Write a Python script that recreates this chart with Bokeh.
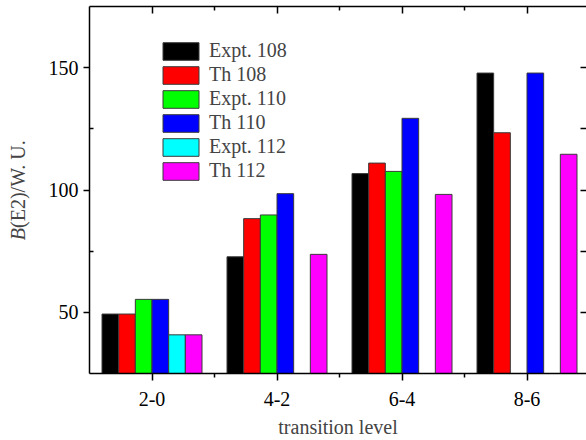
import math
from bokeh.plotting import figure
from bokeh.models import (Range1d, LinearAxis, FixedTicker, Legend, LegendItem, Label,
                          ColumnDataSource)
from bokeh.embed import file_html
from bokeh.resources import INLINE

# ---- data ----
categories = ["2-0", "4-2", "6-4", "8-6"]
series_names = ["Expt. 108", "Th 108", "Expt. 110", "Th 110", "Expt. 112", "Th 112"]
expt_108 = [49.3, 72.7, 106.7, 147.8]
th_108 = [49.3, 88.3, 111.0, 123.4]
expt_110 = [55.3, 89.8, 107.6, None]
th_110 = [55.3, 98.5, 129.3, 147.8]
expt_112 = [40.8, None, None, None]
th_112 = [40.8, 73.7, 98.2, 114.6]
series_values = [expt_108, th_108, expt_110, th_110, expt_112, th_112]
colors = ["#000000", "#FF0000", "#00FF00", "#0000FF", "#00FFFF", "#FF00FF"]
y_ticks = [50, 100, 150]
y_minor = [75, 125]

FONT = "Liberation Serif"
FS = "20px"
n = len(series_names)
bar_w = 0.8 / n

p = figure(width=586, height=440, output_backend="svg", toolbar_location=None,
           x_range=Range1d(-0.5, 3.476), y_range=Range1d(25, 175),
           x_axis_location=None, y_axis_location=None,
           min_border_left=89, min_border_right=0, min_border_top=6,
           min_border_bottom=67)
p.outline_line_color = None
p.grid.visible = False
p.background_fill_color = "white"

xt = FixedTicker(ticks=list(range(len(categories))),
                 minor_ticks=[i + 0.5 for i in range(len(categories) - 1)])
yt = FixedTicker(ticks=y_ticks, minor_ticks=y_minor)

def style(ax):
    ax.axis_line_width = 1.5
    ax.axis_line_color = "black"
    ax.major_tick_line_width = 1.5
    ax.minor_tick_line_width = 1.5
    ax.major_label_text_font = FONT
    ax.major_label_text_font_size = FS
    ax.major_label_text_color = "black"
    ax.axis_label_text_font = FONT
    ax.axis_label_text_font_size = FS
    ax.axis_label_text_font_style = "normal"

# bottom axis
xb = LinearAxis(ticker=xt, axis_label="transition level")
style(xb)
xb.major_label_overrides = {i: c for i, c in enumerate(categories)}
xb.major_tick_out = 7; xb.major_tick_in = 0
xb.minor_tick_out = 4; xb.minor_tick_in = 0
xb.major_label_standoff = 11
xb.axis_label_standoff = 7
p.add_layout(xb, "below")

# top axis (ticks only)
xa = LinearAxis(ticker=xt)
style(xa)
xa.major_label_text_font_size = "0px"
xa.major_label_overrides = {i: "" for i in range(len(categories))}
xa.major_tick_out = 0; xa.major_tick_in = 7
xa.minor_tick_out = 0; xa.minor_tick_in = 4
xa.major_label_standoff = 0
p.add_layout(xa, "above")

# left axis
yl = LinearAxis(ticker=yt)
style(yl)
yl.major_tick_out = 6; yl.major_tick_in = 0
yl.minor_tick_out = 0; yl.minor_tick_in = 4
yl.major_label_standoff = 5
p.add_layout(yl, "left")

# right axis (ticks only, spine cropped in the original)
yr = LinearAxis(ticker=yt)
style(yr)
yr.axis_line_color = None
yr.major_label_text_font_size = "0px"
yr.major_label_overrides = {v: "" for v in y_ticks}
yr.major_tick_out = 0; yr.major_tick_in = 6
yr.minor_tick_out = 0; yr.minor_tick_in = 6
yr.major_label_standoff = 0
p.add_layout(yr, "right")

# bars
items = []
for k, (name, vals, col) in enumerate(zip(series_names, series_values, colors)):
    off = (k - (n - 1) / 2) * bar_w
    xs = [i + off for i, v in enumerate(vals) if v is not None]
    ts = [v for v in vals if v is not None]
    src = ColumnDataSource(dict(x=xs, top=ts))
    r = p.vbar(x="x", top="top", bottom=25, width=bar_w, source=src,
               fill_color=col, line_color="#3a3a3a", line_width=1)
    items.append(LegendItem(label=name, renderers=[r]))

legend = Legend(items=items, location=(69, 191), padding=0, margin=0, spacing=1,
                glyph_width=45, glyph_height=22, label_standoff=6,
                label_text_font=FONT, label_text_font_size=FS,
                border_line_color=None, background_fill_alpha=0)
p.add_layout(legend, "center")

# y-axis title: italic B + (E2)/W. U.  (placed in the left panel so it is not clipped)
p.add_layout(Label(x=-1.072, y=79.5, text="B", angle=math.pi / 2,
                   text_font=FONT, text_font_size=FS, text_font_style="italic",
                   text_align="left", text_baseline="alphabetic"), "left")
p.add_layout(Label(x=-1.072, y=84.5, text="(E2)/W. U.", angle=math.pi / 2,
                   text_font=FONT, text_font_size=FS,
                   text_align="left", text_baseline="alphabetic"), "left")

open("out.html", "w").write(file_html(p, INLINE))
